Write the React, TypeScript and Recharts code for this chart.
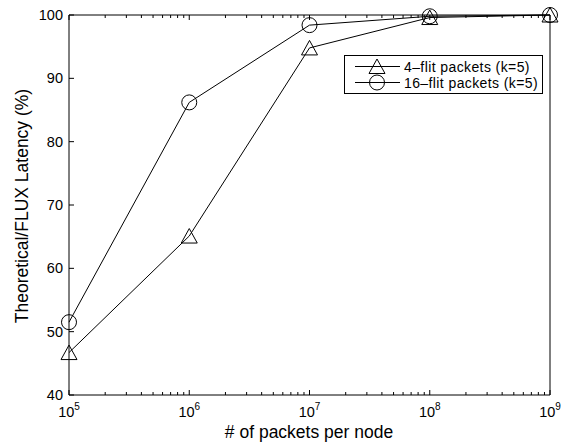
import { LineChart, Line, XAxis, YAxis, Legend } from 'recharts';

const packets = [1e5, 1e6, 1e7, 1e8, 1e9];
const flit4 = [46.7, 65.1, 94.8, 99.6, 100];
const flit16 = [51.5, 86.2, 98.4, 99.8, 100];

const decades = [1e5, 1e6, 1e7, 1e8, 1e9];
const exponents = ['5', '6', '7', '8', '9'];
const minorSteps = [2, 3, 4, 5, 6, 7, 8, 9];
const yTicks = [40, 50, 60, 70, 80, 90, 100];

const minorTicks = decades.slice(0, -1).flatMap((d) => minorSteps.map((m) => m * d));
const xTicks = [...decades, ...minorTicks];

const data = packets.map((p, i) => ({ packets: p, flit4: flit4[i], flit16: flit16[i] }));

const FONT = '"Liberation Sans", Arial, Helvetica, sans-serif';

const isMajor = (v: number) => decades.includes(v);

const BottomTick = (props: any) => {
  const { x, y, payload } = props;
  const v = payload.value;
  const major = isMajor(v);
  return (
    <g>
      <line x1={x} y1={y} x2={x} y2={y - (major ? 5 : 3)} stroke="#000" />
      {major && (
        <text x={x} y={y + 22} textAnchor="middle" fontSize={14.5} fontFamily={FONT} fill="#000">
          <tspan>10</tspan>
          <tspan dy={-7} fontSize={10}>
            {exponents[decades.indexOf(v)]}
          </tspan>
        </text>
      )}
    </g>
  );
};

const TopTick = (props: any) => {
  const { x, y, payload } = props;
  const major = isMajor(payload.value);
  return <line x1={x} y1={y} x2={x} y2={y + (major ? 5 : 3)} stroke="#000" />;
};

const LeftTick = (props: any) => {
  const { x, y, payload } = props;
  return (
    <g>
      <line x1={x} y1={y} x2={x + 5} y2={y} stroke="#000" />
      <text x={x - 6} y={y + 5} textAnchor="end" fontSize={14.5} fontFamily={FONT} fill="#000">
        {payload.value}
      </text>
    </g>
  );
};

const RightTick = (props: any) => {
  const { x, y } = props;
  return <line x1={x} y1={y} x2={x - 5} y2={y} stroke="#000" />;
};

const Triangle = ({ cx, cy }: { cx: number; cy: number }) => (
  <polygon
    points={`${cx},${cy - 7.5} ${cx - 8},${cy + 7} ${cx + 8},${cy + 7}`}
    fill="none"
    stroke="#000"
    strokeWidth={1}
  />
);

const Circle = ({ cx, cy }: { cx: number; cy: number }) => (
  <circle cx={cx} cy={cy} r={7.5} fill="none" stroke="#000" strokeWidth={1} />
);

// legend drawn by hand, MATLAB-style boxed
const LegendBox = () => (
  <svg width={200} height={40} style={{ display: 'block' }}>
    <rect x={0.5} y={0.5} width={198} height={38} fill="#fff" stroke="#000" />
    <line x1={11} y1={11.5} x2={56} y2={11.5} stroke="#000" />
    <Triangle cx={33} cy={11.5} />
    <text x={60} y={16.5} fontSize={14} letterSpacing={0.4} fontFamily={FONT} fill="#000">
      4–flit packets (k=5)
    </text>
    <line x1={11} y1={27.5} x2={56} y2={27.5} stroke="#000" />
    <Circle cx={33} cy={27.5} />
    <text x={60} y={32.5} fontSize={14} letterSpacing={0.4} fontFamily={FONT} fill="#000">
      16–flit packets (k=5)
    </text>
  </svg>
);

export default function App() {
  return (
    <div style={{ width: 563, height: 443, background: '#fff' }}>
      <style>{'body{margin:0;background:#fff}'}</style>
      <LineChart
        width={563}
        height={443}
        data={data}
        margin={{ top: 5, right: 3, bottom: 8, left: 29 }}
      >
        <XAxis
          dataKey="packets"
          type="number"
          scale="log"
          domain={[1e5, 1e9]}
          ticks={xTicks}
          interval={0}
          height={40}
          tickSize={0}
          tickMargin={0}
          tickLine={false}
          tick={<BottomTick />}
          axisLine={{ stroke: '#000' }}
          label={{
            value: '# of packets per node',
            content: () => (
              <text x={309} y={438} textAnchor="middle" fontSize={17.5} fontFamily={FONT} fill="#000">
                # of packets per node
              </text>
            ),
          }}
        />
        <XAxis
          xAxisId="top"
          orientation="top"
          dataKey="packets"
          type="number"
          scale="log"
          domain={[1e5, 1e9]}
          ticks={xTicks}
          interval={0}
          height={10}
          tickSize={0}
          tickMargin={0}
          tickLine={false}
          tick={<TopTick />}
          axisLine={{ stroke: '#000' }}
        />
        <YAxis
          type="number"
          domain={[40, 100]}
          ticks={yTicks}
          interval={0}
          width={40}
          tickSize={0}
          tickMargin={0}
          tickLine={false}
          tick={<LeftTick />}
          axisLine={{ stroke: '#000' }}
          label={{
            value: 'Theoretical/FLUX Latency (%)',
            content: () => (
              <text
                x={28}
                y={206}
                transform="rotate(-90 28 206)"
                textAnchor="middle"
                fontSize={17.5}
                fontFamily={FONT}
                fill="#000"
              >
                Theoretical/FLUX Latency (%)
              </text>
            ),
          }}
        />
        <YAxis
          yAxisId="right"
          orientation="right"
          type="number"
          domain={[40, 100]}
          ticks={yTicks}
          interval={0}
          width={10}
          tickSize={0}
          tickMargin={0}
          tickLine={false}
          tick={<RightTick />}
          axisLine={{ stroke: '#000' }}
        />
        <Legend
          layout="vertical"
          align="center"
          verticalAlign="middle"
          wrapperStyle={{ position: 'absolute', left: 344, top: 55, width: 200, height: 40 }}
          content={() => <LegendBox />}
        />
        <Line
          dataKey="flit4"
          type="linear"
          stroke="#000"
          strokeWidth={1}
          isAnimationActive={false}
          activeDot={false}
          dot={(p: any) => <Triangle key={`t${p.index}`} cx={p.cx} cy={p.cy} />}
        />
        <Line
          dataKey="flit16"
          type="linear"
          stroke="#000"
          strokeWidth={1}
          isAnimationActive={false}
          activeDot={false}
          dot={(p: any) => <Circle key={`c${p.index}`} cx={p.cx} cy={p.cy} />}
        />
      </LineChart>
    </div>
  );
}
